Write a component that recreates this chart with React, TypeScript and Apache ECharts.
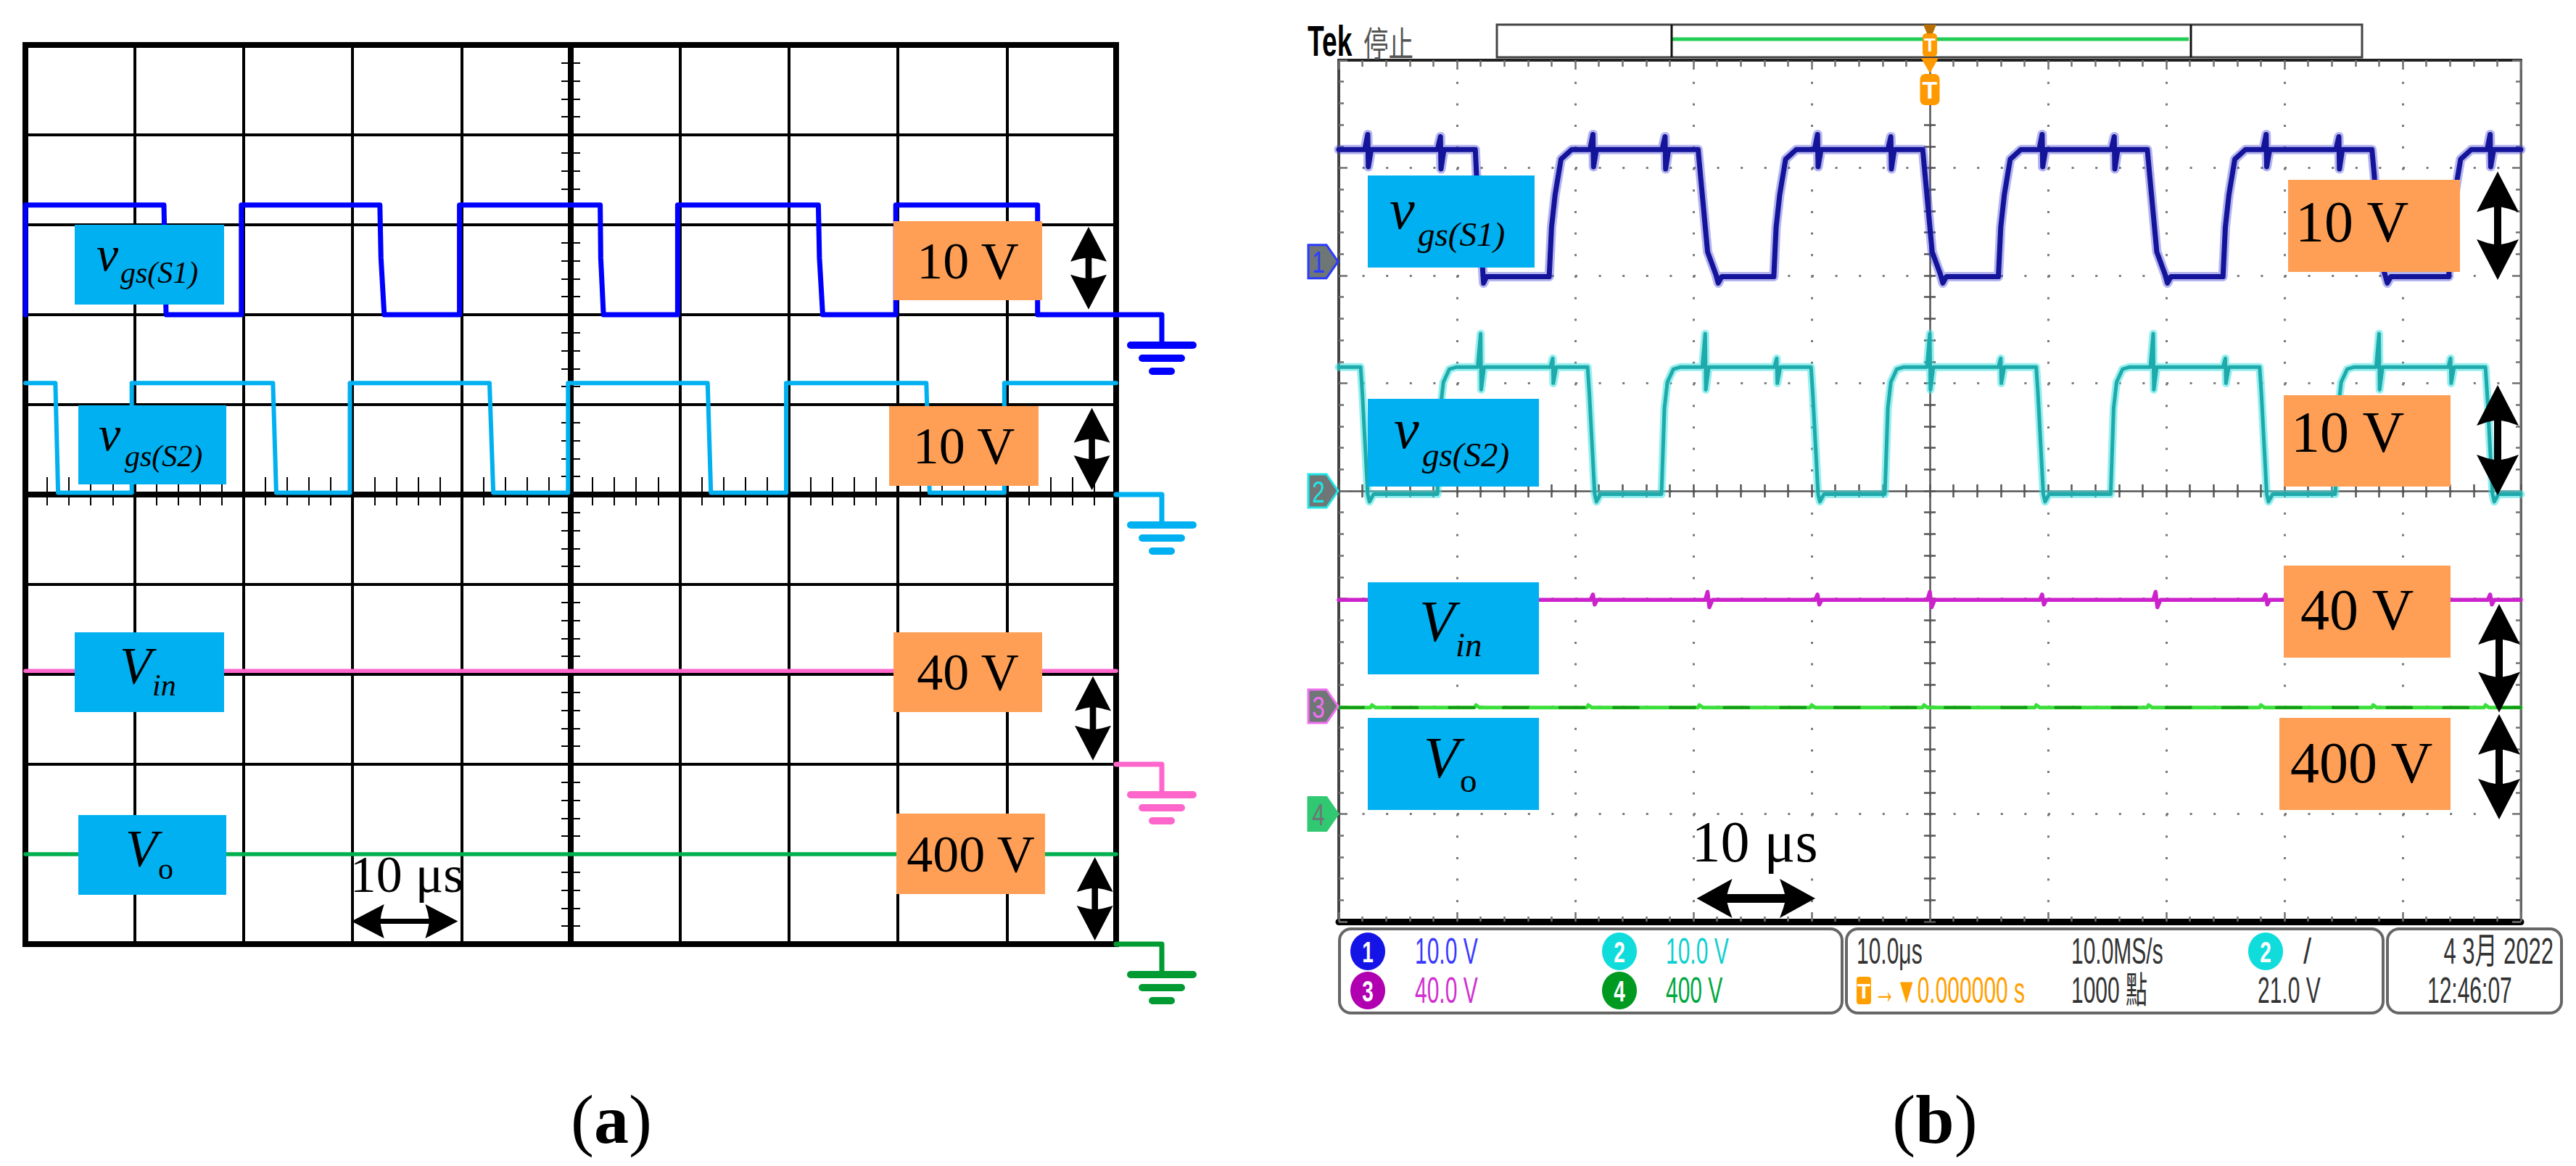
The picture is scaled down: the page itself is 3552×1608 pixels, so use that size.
import React, { useEffect, useRef } from "react";
import * as echarts from "echarts";

type Pt = [number, number];

// ================= DATA =================
// time in μs measured from the screen centre, voltage in V

// (a) simulated waveforms
const simVgsS1: Pt[] = [
  [-50, 0], [-50, 12.2], [-37.3, 12.2], [-37.1, 0],
  [-30.2, 0], [-30.2, 12.2], [-17.5, 12.2], [-17.4, 6.3], [-17.1, 0],
  [-10.2, 0], [-10.2, 12.2], [2.7, 12.2], [2.75, 6.3], [3.0, 0],
  [9.8, 0], [9.8, 12.2], [22.7, 12.2], [22.8, 6.3], [23.1, 0],
  [29.8, 0], [29.8, 12.2], [42.8, 12.2], [42.8, 0], [50, 0],
];
const simVgsS2: Pt[] = [
  [-50, 12.4], [-47.25, 12.4], [-47.0, 0.2], [-40.25, 0.2], [-40.25, 12.4],
  [-27.3, 12.4], [-27.0, 0.2], [-20.25, 0.2], [-20.25, 12.4],
  [-7.45, 12.4], [-7.1, 0.2], [-0.25, 0.2], [-0.25, 12.4],
  [12.55, 12.4], [12.85, 0.2], [19.75, 0.2], [19.75, 12.4],
  [32.6, 12.4], [32.9, 0.2], [39.75, 0.2], [39.75, 12.4], [50, 12.4],
];
const simVin: Pt[] = [[-50, 41.5], [50, 41.5]];
const simVo: Pt[] = [[-50, 400], [50, 400]];

// (b) measured waveforms
const scopeVgsS1: Pt[] = [
  [-50, 10.4],
  [-47.8, 10.4], [-47.55, 11.8], [-47.5, 8.8], [-47.25, 10.4],
  [-41.65, 10.4], [-41.4, 11.6], [-41.35, 8.6], [-41.1, 10.4],
  [-38.45, 10.4], [-38.3, 7.0], [-37.9, 0.5], [-37.75, -2.0], [-37.5, -1.4],
  [-32.2, -1.4], [-32.0, 3.2], [-31.7, 6.2], [-31.2, 9.5], [-30.3, 10.4],
  [-28.75, 10.4], [-28.5, 11.8], [-28.45, 8.8], [-28.2, 10.4],
  [-22.65, 10.4], [-22.4, 11.6], [-22.35, 8.6], [-22.1, 10.4],
  [-19.6, 10.4], [-19.4, 8.0], [-18.8, 0.9], [-18.1, -1.2], [-17.9, -2.0], [-17.6, -1.4],
  [-13.2, -1.4], [-13.0, 3.2], [-12.7, 6.2], [-12.2, 9.5], [-11.3, 10.4],
  [-9.75, 10.4], [-9.5, 11.8], [-9.45, 8.8], [-9.2, 10.4],
  [-3.55, 10.4], [-3.3, 11.6], [-3.25, 8.6], [-3.0, 10.4],
  [-0.6, 10.4], [-0.4, 8.0], [0.2, 0.9], [0.9, -1.2], [1.1, -2.0], [1.4, -1.4],
  [5.8, -1.4], [6.0, 3.2], [6.3, 6.2], [6.8, 9.5], [7.7, 10.4],
  [9.25, 10.4], [9.5, 11.8], [9.55, 8.8], [9.8, 10.4],
  [15.35, 10.4], [15.6, 11.6], [15.65, 8.6], [15.9, 10.4],
  [18.4, 10.4], [18.6, 8.0], [19.2, 0.9], [19.9, -1.2], [20.1, -2.0], [20.4, -1.4],
  [24.8, -1.4], [25.0, 3.2], [25.3, 6.2], [25.8, 9.5], [26.7, 10.4],
  [28.2, 10.4], [28.45, 11.8], [28.5, 8.8], [28.75, 10.4],
  [34.35, 10.4], [34.6, 11.6], [34.65, 8.6], [34.9, 10.4],
  [37.4, 10.4], [37.6, 8.0], [38.0, 0.9], [38.5, -1.2], [38.7, -2.0], [39.0, -1.4],
  [43.9, -1.4], [44.1, 3.2], [44.4, 6.2], [44.9, 9.5], [45.8, 10.4],
  [47.15, 10.4], [47.4, 11.8], [47.45, 8.8], [47.7, 10.4],
  [50, 10.4],
];
const scopeVgsS2: Pt[] = [
  [-50, 11.5],
  [-48.15, 11.5], [-48.0, 9.0], [-47.55, -0.3], [-47.4, -1.0], [-47.05, -0.3],
  [-41.65, -0.3], [-41.4, 7.7], [-41.15, 10.1], [-40.65, 11.3], [-40.05, 11.5],
  [-38.25, 11.5], [-38.0, 14.6], [-37.95, 9.4], [-37.7, 11.5],
  [-32.1, 11.5], [-31.9, 12.3], [-31.85, 10.0], [-31.6, 11.5],
  [-28.95, 11.5], [-28.8, 9.0], [-28.35, -0.3], [-28.2, -1.0], [-27.85, -0.3],
  [-22.7, -0.3], [-22.45, 7.7], [-22.2, 10.1], [-21.7, 11.3], [-21.1, 11.5],
  [-19.25, 11.5], [-19.0, 14.6], [-18.95, 9.4], [-18.7, 11.5],
  [-13.15, 11.5], [-12.95, 12.3], [-12.9, 10.0], [-12.65, 11.5],
  [-10.05, 11.5], [-9.9, 9.0], [-9.45, -0.3], [-9.3, -1.0], [-8.95, -0.3],
  [-3.8, -0.3], [-3.55, 7.7], [-3.3, 10.1], [-2.8, 11.3], [-2.2, 11.5],
  [-0.25, 11.5], [0, 14.6], [0.05, 9.4], [0.3, 11.5],
  [5.8, 11.5], [6.0, 12.3], [6.05, 10.0], [6.3, 11.5],
  [9.0, 11.5], [9.15, 9.0], [9.6, -0.3], [9.75, -1.0], [10.1, -0.3],
  [15.3, -0.3], [15.55, 7.7], [15.8, 10.1], [16.3, 11.3], [16.9, 11.5],
  [18.65, 11.5], [18.9, 14.6], [18.95, 9.4], [19.2, 11.5],
  [24.8, 11.5], [25.0, 12.3], [25.05, 10.0], [25.3, 11.5],
  [27.9, 11.5], [28.05, 9.0], [28.5, -0.3], [28.65, -1.0], [29.0, -0.3],
  [34.3, -0.3], [34.55, 7.7], [34.8, 10.1], [35.3, 11.3], [35.9, 11.5],
  [37.75, 11.5], [38.0, 14.6], [38.05, 9.4], [38.3, 11.5],
  [43.85, 11.5], [44.05, 12.3], [44.1, 10.0], [44.35, 11.5],
  [47.0, 11.5], [47.15, 9.0], [47.6, -0.3], [47.75, -1.0], [48.1, -0.3],
  [50, -0.3],
];
const scopeVin: Pt[] = [
  [-50, 39.5],
  [-28.7, 39.5], [-28.5, 41.5], [-28.35, 37.8], [-28.15, 39.5],
  [-19.0, 39.5], [-18.8, 42.5], [-18.65, 36.8], [-18.4, 39.5],
  [-9.7, 39.5], [-9.5, 41.5], [-9.35, 37.8], [-9.15, 39.5],
  [-0.2, 39.5], [0, 42.5], [0.15, 36.8], [0.4, 39.5],
  [9.3, 39.5], [9.5, 41.5], [9.65, 37.8], [9.85, 39.5],
  [18.9, 39.5], [19.1, 42.5], [19.25, 36.8], [19.5, 39.5],
  [28.2, 39.5], [28.4, 41.5], [28.55, 37.8], [28.75, 39.5],
  [47.2, 39.5], [47.4, 41.5], [47.55, 37.8], [47.75, 39.5],
  [50, 39.5],
];
const scopeVo: Pt[] = [
  [-50, 395], [-47.3, 395], [-47.2, 405], [-46.9, 395],
  [-38.5, 395], [-38.4, 405], [-38.1, 395], [-29.0, 395], [-28.9, 405], [-28.6, 395],
  [-19.6, 395], [-19.5, 405], [-19.2, 395], [-10.1, 395], [-10.0, 405], [-9.7, 395],
  [-0.6, 395], [-0.5, 405], [-0.2, 395], [8.9, 395], [9.0, 405], [9.3, 395],
  [18.4, 395], [18.5, 405], [18.8, 395], [27.9, 395], [28.0, 405], [28.3, 395],
  [37.4, 395], [37.5, 405], [37.8, 395], [46.9, 395], [47.0, 405], [47.3, 395],
  [50, 395],
];

// vertical scale (V/div) and ground level (div from centre) of every channel
const simVoltsPerDiv = [10, 10, 40, 400];
const simGroundDiv = [2, 0, -3, -5];
const scopeVoltsPerDiv = [10, 10, 40, 400];
const scopeGroundDiv = [2.13, 0, -2, -3];

// time axis (μs)
const timeMin = -50;
const timeMax = 50;
const timePerDiv = 10;

// texts
const channelSymbols: [string, string][] = [["v", "gs(S1)"], ["v", "gs(S2)"], ["V", "in"], ["V", "o"]];
const scaleLabels = ["10 V", "10 V", "40 V", "400 V"];
const timeLabel = "10 μs";
const captions = ["a", "b"];
const scopeMarkerNumbers = ["1", "2", "3", "4"];
const statusChannelTexts = ["10.0 V", "10.0 V", "40.0 V", "400 V"];
const statusTimebase = ["10.0μs", "10.0MS/s", "→▼0.000000 s", "1000 點", "21.0 V"];
const statusDate = ["4 3月 2022", "12:46:07"];
const headerTexts = ["Tek", "停止"];

// ================= LAYOUT / STYLE =================
const GA = { left: 35, top: 62, width: 1504, height: 1240 };
const GB = { left: 1846, top: 83, width: 1630, height: 1188 };

const SERIF = '"Liberation Serif", "Times New Roman", serif';
const SANS = '"Liberation Sans", Arial, "Noto Sans CJK TC", sans-serif';
const CJK = '"Noto Sans CJK TC", "Noto Sans CJK SC", sans-serif';

const BLUE_BOX = "#00B0F0";
const ORANGE_BOX = "#FF9F55";

const simColors = ["#0000FF", "#00B0F0", "#FF66CC", "#00B050"];
const simGroundColors = ["#0000FF", "#00B0F0", "#FF66CC", "#009A33"];

function font(size: number, family: string, italic = false, bold = false) {
  return `${italic ? "italic" : "normal"} ${bold ? "bold" : "normal"} ${size}px ${family}`;
}
function T(x: number, y: number, text: string, size: number, o: any = {}) {
  const align = o.align ?? "left";
  return {
    type: "text",
    x,
    y,
    z: o.z ?? 120,
    scaleX: o.sx ?? 1,
    silent: true,
    style: {
      text,
      font: font(size, o.family ?? SERIF, !!o.italic, !!o.bold),
      fill: o.color ?? "#000",
      align,
      verticalAlign: "middle",
      textAlign: align,
      textVerticalAlign: "middle",
    },
  };
}
const mid = (baseline: number, size: number) => baseline - 0.3375 * size;

function rect(x: number, y: number, w: number, h: number, fill: string, z = 110, extra: any = {}) {
  return { type: "rect", z, silent: true, shape: { x, y, width: w, height: h, r: extra.r ?? 0 }, style: { fill, stroke: extra.stroke ?? null, lineWidth: extra.lw ?? 0 } };
}
function line(x1: number, y1: number, x2: number, y2: number, color: string, lw: number, z = 60, cap = "round") {
  return { type: "line", z, silent: true, shape: { x1, y1, x2, y2 }, style: { stroke: color, lineWidth: lw, lineCap: cap } };
}

function vArrow(cx: number, y1: number, y2: number, w: number, l: number, s: number, d: number) {
  const pts = [
    [cx, y1], [cx + w, y1 + l], [cx + w * 0.5, y1 + l - d * 0.7], [cx + s, y1 + l - d],
    [cx + s, y2 - l + d], [cx + w * 0.5, y2 - l + d * 0.7], [cx + w, y2 - l],
    [cx, y2], [cx - w, y2 - l], [cx - w * 0.5, y2 - l + d * 0.7], [cx - s, y2 - l + d],
    [cx - s, y1 + l - d], [cx - w * 0.5, y1 + l - d * 0.7], [cx - w, y1 + l],
  ];
  return { type: "polygon", z: 115, silent: true, shape: { points: pts }, style: { fill: "#000" } };
}
function hArrow(cy: number, x1: number, x2: number, w: number, l: number, s: number, d: number) {
  const pts = [
    [x1, cy], [x1 + l, cy - w], [x1 + l - d * 0.7, cy - w * 0.5], [x1 + l - d, cy - s],
    [x2 - l + d, cy - s], [x2 - l + d * 0.7, cy - w * 0.5], [x2 - l, cy - w],
    [x2, cy], [x2 - l, cy + w], [x2 - l + d * 0.7, cy + w * 0.5], [x2 - l + d, cy + s],
    [x1 + l - d, cy + s], [x1 + l - d * 0.7, cy + w * 0.5], [x1 + l, cy + w],
  ];
  return { type: "polygon", z: 115, silent: true, shape: { points: pts }, style: { fill: "#000" } };
}

const toDiv = (data: Pt[], vpd: number, gnd: number) => data.map(([t, v]) => [t, gnd + v / vpd]);
const groundYA = (g: number) => GA.top + ((5 - g) / 10) * GA.height;
const groundYB = (g: number) => GB.top + ((4 - g) / 8) * GB.height;

const hiddenAxis = {
  axisLabel: { show: false },
  axisTick: { show: false },
  axisLine: { show: false, onZero: false },
  splitLine: { show: false },
  minorTick: { show: false },
  minorSplitLine: { show: false },
};
function vAxis(gridIndex: number, min: number, max: number, interval: number, extra: any) {
  return { type: "value", gridIndex, min, max, interval, ...hiddenAxis, ...extra };
}

function buildOption() {
  const blackTick = (len: number) => ({ show: true, splitNumber: 5, length: len, lineStyle: { color: "#000", width: 2 } });
  const grayTick = (len: number, c = "#707070") => ({ show: true, length: len, lineStyle: { color: c, width: 2.5 } });
  const grayMinor = (len: number, c = "#707070") => ({ show: true, splitNumber: 5, length: len, lineStyle: { color: c, width: 2.5 } });
  const yMinA = -5, yMaxA = 5, yMinB = -4, yMaxB = 4;

  const xAxis = [
    // (a)
    vAxis(0, timeMin, timeMax, timePerDiv, { splitLine: { show: true, lineStyle: { color: "#000", width: 4 } } }),
    vAxis(0, timeMin, timeMax, timePerDiv, { position: "bottom", axisLine: { show: true, onZero: true, lineStyle: { color: "#000", width: 8 } }, minorTick: blackTick(15) }),
    vAxis(0, timeMin, timeMax, timePerDiv, { position: "top", axisLine: { show: false, onZero: true }, minorTick: blackTick(24) }),
    // (b)
    vAxis(1, timeMin, timeMax, timePerDiv, {
      position: "bottom",
      axisLine: { show: true, onZero: false, lineStyle: { color: "#000", width: 9 } },
      axisTick: { ...grayTick(13), inside: true },
      minorTick: grayMinor(7),
      splitLine: { show: true, lineStyle: { color: "#7a7a7a", width: 3, type: [3, 26.7] } },
    }),
    vAxis(1, timeMin, timeMax, timePerDiv, {
      position: "top",
      axisLine: { show: true, onZero: false, lineStyle: { color: "#222", width: 4 } },
      axisTick: { ...grayTick(13), inside: true },
      minorTick: grayMinor(9),
    }),
    vAxis(1, timeMin, timeMax, timePerDiv, {
      position: "bottom",
      axisLine: { show: true, onZero: true, lineStyle: { color: "#555", width: 2.5 } },
      axisTick: grayTick(9, "#555"),
      minorTick: grayMinor(9, "#555"),
    }),
    vAxis(1, timeMin, timeMax, timePerDiv, {
      position: "top",
      axisLine: { show: false, onZero: true },
      axisTick: grayTick(9, "#555"),
      minorTick: grayMinor(9, "#555"),
    }),
  ];
  const yAxis = [
    vAxis(0, yMinA, yMaxA, 1, { splitLine: { show: true, lineStyle: { color: "#000", width: 4 } } }),
    vAxis(0, yMinA, yMaxA, 1, { position: "left", axisLine: { show: true, onZero: true, lineStyle: { color: "#000", width: 8 } }, minorTick: blackTick(13) }),
    vAxis(0, yMinA, yMaxA, 1, { position: "right", axisLine: { show: false, onZero: true }, minorTick: blackTick(13) }),
    vAxis(1, yMinB, yMaxB, 1, {
      position: "left",
      axisLine: { show: true, onZero: false, lineStyle: { color: "#444", width: 4 } },
      axisTick: { ...grayTick(12), inside: true },
      minorTick: grayMinor(7),
      splitLine: { show: true, lineStyle: { color: "#7a7a7a", width: 3, type: [3, 29.6] } },
    }),
    vAxis(1, yMinB, yMaxB, 1, {
      position: "right",
      axisLine: { show: true, onZero: false, lineStyle: { color: "#666", width: 3 } },
      axisTick: { ...grayTick(12), inside: true },
      minorTick: grayMinor(7),
    }),
    vAxis(1, yMinB, yMaxB, 1, {
      position: "left",
      axisLine: { show: true, onZero: true, lineStyle: { color: "#555", width: 2.5 } },
      axisTick: grayTick(8, "#555"),
      minorTick: grayMinor(8, "#555"),
    }),
    vAxis(1, yMinB, yMaxB, 1, {
      position: "right",
      axisLine: { show: false, onZero: true },
      axisTick: grayTick(8, "#555"),
      minorTick: grayMinor(8, "#555"),
    }),
  ];

  const lineSeries = (name: string, grid: number, data: any[], color: string, width: number, extra: any = {}) => ({
    type: "line",
    name,
    xAxisIndex: grid === 0 ? 0 : 3,
    yAxisIndex: grid === 0 ? 0 : 3,
    data,
    symbol: "none",
    showSymbol: false,
    silent: true,
    z: extra.z ?? 5,
    lineStyle: { color, width, cap: "round", join: "round", type: extra.type ?? "solid" },
  });

  const simData = [simVgsS1, simVgsS2, simVin, simVo];
  const scopeData = [scopeVgsS1, scopeVgsS2, scopeVin, scopeVo];
  const simWidths = [7, 6, 5.5, 5.5];
  const series: any[] = [];
  [3, 2, 1, 0].forEach((i) => {
    series.push(lineSeries(channelSymbols[i].join(""), 0, toDiv(simData[i], simVoltsPerDiv[i], simGroundDiv[i]), simColors[i], simWidths[i]));
  });
  const sd = scopeData.map((d, i) => toDiv(d, scopeVoltsPerDiv[i], scopeGroundDiv[i]));
  series.push(lineSeries("Vo", 1, sd[3], "#3ADF3A", 5, { z: 4 }));
  series.push(lineSeries("Vo-dark", 1, sd[3], "#139A13", 4, { z: 5, type: [34, 44] }));
  series.push(lineSeries("Vin", 1, sd[2], "#CC22CC", 5.5, { z: 5 }));
  series.push(lineSeries("S2-halo", 1, sd[1], "rgba(70,225,225,0.55)", 11, { z: 4 }));
  series.push(lineSeries("S2", 1, sd[1], "#1EAAAA", 5, { z: 5 }));
  series.push(lineSeries("S1-halo", 1, sd[0], "rgba(70,70,215,0.4)", 13, { z: 4 }));
  series.push(lineSeries("S1", 1, sd[0], "#14149A", 7, { z: 6 }));

  // ---------- graphics ----------
  const g: any[] = [];

  // (a) ground symbols
  const gxA = 1602;
  simGroundDiv.forEach((gd, i) => {
    const y = groundYA(gd);
    const c = simGroundColors[i];
    g.push({ type: "polyline", z: 60, silent: true, shape: { points: [[GA.left + GA.width, y], [gxA, y], [gxA, y + 42]] }, style: { stroke: c, lineWidth: 7, fill: null, lineCap: "round", lineJoin: "round" } });
    g.push(line(gxA - 43, y + 42, gxA + 43, y + 42, c, 10));
    g.push(line(gxA - 27, y + 60, gxA + 27, y + 60, c, 10));
    g.push(line(gxA - 13, y + 78, gxA + 13, y + 78, c, 10));
  });

  // label boxes (a)
  const simNameBoxes = [[103, 310, 206, 110], [108, 559, 204, 109], [103, 872, 206, 110], [108, 1124, 204, 110]];
  const simScaleBoxes = [[1232, 305, 205, 109], [1226, 560, 206, 110], [1232, 872, 205, 110], [1236, 1122, 205, 111]];
  const simGlyphs = [
    { mx: 133, mb: 372.8, ms: 68, sx: 166, sb: 390.6, ss: 42 },
    { mx: 136, mb: 620.5, ms: 68, sx: 172, sb: 643, ss: 42 },
    { mx: 165, mb: 942.4, ms: 72, sx: 210, sb: 959, ss: 42 },
    { mx: 173, mb: 1193.8, ms: 72, sx: 218, sb: 1212.5, ss: 42 },
  ];
  simNameBoxes.forEach(([x, y, w, h], i) => {
    g.push(rect(x, y, w, h, BLUE_BOX));
    const gl = simGlyphs[i];
    g.push(T(gl.mx, mid(gl.mb, gl.ms), channelSymbols[i][0], gl.ms, { italic: true }));
    g.push(T(gl.sx, mid(gl.sb, gl.ss), channelSymbols[i][1], gl.ss, { italic: i !== 3 }));
  });
  simScaleBoxes.forEach(([x, y, w, h], i) => {
    g.push(rect(x, y, w, h, ORANGE_BOX));
    g.push(T(x + w / 2, y + h / 2, scaleLabels[i], 72, { align: "center" }));
  });
  [[1501, 312.7, 426.7], [1505.6, 562.5, 676], [1507, 932.6, 1048.7], [1509.7, 1182, 1297]].forEach(([cx, a, b]) =>
    g.push(vArrow(cx, a, b, 25, 48, 4.3, 5))
  );
  g.push(hArrow(1270.5, 484.7, 631.4, 23.5, 45, 3.4, 5));
  g.push(T(561, mid(1230, 72), timeLabel, 72, { align: "center" }));

  // (b) label boxes
  const scopeNameBoxes = [[1886, 242, 230, 127], [1886, 550, 236, 121], [1886, 803, 236, 127], [1886, 990, 236, 127]];
  const scopeScaleBoxes = [[3155, 248, 237, 127], [3149, 545, 230, 126], [3149, 780, 230, 127], [3143, 990, 236, 127]];
  const scopeGlyphs = [
    { mx: 1916, mb: 314.7, ms: 78, sx: 1955, sb: 339, ss: 47 },
    { mx: 1922, mb: 618, ms: 78, sx: 1961, sb: 643, ss: 47 },
    { mx: 1957, mb: 884.4, ms: 80, sx: 2007, sb: 904.5, ss: 47 },
    { mx: 1963, mb: 1071.9, ms: 80, sx: 2013, sb: 1092, ss: 47 },
  ];
  const scopeScaleText = [[3165, 306], [3159, 596], [3172, 841], [3158, 1052]];
  scopeNameBoxes.forEach(([x, y, w, h], i) => {
    g.push(rect(x, y, w, h, BLUE_BOX));
    const gl = scopeGlyphs[i];
    g.push(T(gl.mx, mid(gl.mb, gl.ms), channelSymbols[i][0], gl.ms, { italic: true }));
    g.push(T(gl.sx, mid(gl.sb, gl.ss), channelSymbols[i][1], gl.ss, { italic: i !== 3 }));
  });
  scopeScaleBoxes.forEach(([x, y, w, h], i) => {
    g.push(rect(x, y, w, h, ORANGE_BOX));
    g.push(T(scopeScaleText[i][0], scopeScaleText[i][1], scaleLabels[i], 80));
  });
  [[3444, 236.6, 386], [3444, 531, 683], [3446, 833, 982.6], [3446, 984.8, 1130]].forEach(([cx, a, b]) =>
    g.push(vArrow(cx, a, b, 29, 56, 5, 7))
  );
  g.push(hArrow(1239, 2339.6, 2503, 27, 49, 6, 7));
  g.push(T(2419.5, mid(1188, 80), timeLabel, 80, { align: "center" }));

  // (b) channel ground markers at the left edge
  const mkFill = ["#6E7676", "#6E7676", "#6E7676", "#30C870"];
  const mkStroke = ["#2B3BFF", "#22E5E5", "#F070F0", "#30C870"];
  const mkText = ["#2B3BFF", "#22E5E5", "#F070F0", "#6E7676"];
  scopeGroundDiv.forEach((gd, i) => {
    const y = groundYB(gd);
    g.push({
      type: "polygon", z: 70, silent: true,
      shape: { points: [[1804, y - 23], [1829, y - 23], [1845, y], [1829, y + 23], [1804, y + 23]] },
      style: { fill: mkFill[i], stroke: mkStroke[i], lineWidth: 3 },
    });
    g.push(T(1818, y + 1, scopeMarkerNumbers[i], 42, { family: SANS, color: mkText[i], align: "center", sx: 0.75, z: 71 }));
  });

  // (b) header
  g.push(T(1803, 57, headerTexts[0], 60, { family: SANS, bold: true, sx: 0.62 }));
  g.push(T(1880, 57, headerTexts[1], 48, { family: CJK, color: "#555", sx: 0.72 }));
  g.push(rect(2064, 34, 1193, 45, "#fff", 60, { stroke: "#444", lw: 3 }));
  g.push(line(2305, 54, 3018, 54, "#22CC55", 5, 61, "butt"));
  g.push(line(2305, 34, 2305, 79, "#111", 3, 62, "butt"));
  g.push(line(3021, 34, 3021, 79, "#111", 3, 62, "butt"));
  const cxB = GB.left + GB.width / 2;
  const ORANGE = "#FF9900";
  g.push({ type: "polygon", z: 130, silent: true, shape: { points: [[cxB - 9, 34], [cxB + 9, 34], [cxB + 4, 46], [cxB - 4, 46]] }, style: { fill: "#B86E00" } });
  g.push(rect(cxB - 10, 46, 20, 32, ORANGE, 130, { r: 5 }));
  g.push(T(cxB, 62, "T", 26, { family: SANS, bold: true, color: "#fff", align: "center", z: 131 }));
  g.push({ type: "polygon", z: 130, silent: true, shape: { points: [[cxB - 12, 80], [cxB + 12, 80], [cxB, 101]] }, style: { fill: ORANGE } });
  g.push(rect(cxB - 13.5, 102, 27, 43, ORANGE, 130, { r: 7 }));
  g.push(T(cxB, 123.5, "T", 34, { family: SANS, bold: true, color: "#fff", align: "center", z: 131 }));

  // (b) status bar
  const r1 = 1312, r2 = 1366;
  g.push(rect(1847, 1281, 693, 116, "#fff", 60, { stroke: "#666", lw: 4, r: 16 }));
  g.push(rect(2546, 1281, 740, 116, "#fff", 60, { stroke: "#666", lw: 4, r: 16 }));
  g.push(rect(3292, 1281, 240, 116, "#fff", 60, { stroke: "#666", lw: 4, r: 16 }));
  const circ = (cx: number, cy: number, fill: string, num: string) => {
    g.push({ type: "ellipse", z: 70, silent: true, shape: { cx, cy, rx: 24, ry: 26 }, style: { fill } });
    g.push(T(cx, cy + 1, num, 40, { family: SANS, bold: true, color: "#fff", align: "center", sx: 0.7, z: 71 }));
  };
  circ(1886, r1, "#1414E6", "1");
  circ(2233, r1, "#10DCDC", "2");
  circ(1886, r2, "#B000B0", "3");
  circ(2233, r2, "#009A20", "4");
  circ(3124, r1, "#10DCDC", "2");
  const stColors = ["#3A3AFF", "#10D0D0", "#D030D0", "#00A840"];
  const stPos = [[1951, r1], [2297, r1], [1951, r2], [2297, r2]];
  statusChannelTexts.forEach((s, i) => g.push(T(stPos[i][0], stPos[i][1], s, 50, { family: SANS, color: stColors[i], sx: 0.6 })));
  g.push(T(2560, r1, statusTimebase[0], 50, { family: SANS, color: "#333", sx: 0.6 }));
  g.push(T(2856, r1, statusTimebase[1], 50, { family: SANS, color: "#333", sx: 0.6 }));
  g.push(T(3176, r1, "/", 50, { family: SANS, color: "#333", sx: 0.8 }));
  g.push(rect(2560, 1347, 20, 38, "#FFA000", 70, { r: 4 }));
  g.push(T(2570, r2, "T", 30, { family: SANS, bold: true, color: "#fff", align: "center", z: 71 }));
  g.push(T(2584, r2, statusTimebase[2], 50, { family: SANS, color: "#FFA000", sx: 0.6 }));
  g.push(T(2856, r2, statusTimebase[3], 50, { family: SANS, color: "#333", sx: 0.6 }));
  g.push(T(3113, r2, statusTimebase[4], 50, { family: SANS, color: "#333", sx: 0.6 }));
  g.push(T(3521, r1, statusDate[0], 50, { family: SANS, color: "#333", sx: 0.62, align: "right" }));
  g.push(T(3347, r2, statusDate[1], 50, { family: SANS, color: "#333", sx: 0.6 }));

  // captions
  [[843, 1543], [2668, 1543]].forEach(([x, y], i) => {
    g.push({
      type: "text", x, y, z: 120, silent: true,
      style: {
        text: `({b|${captions[i]}})`,
        font: font(96, SERIF),
        fill: "#000",
        align: "center", verticalAlign: "middle", textAlign: "center", textVerticalAlign: "middle",
        rich: { b: { font: font(96, SERIF, false, true), fill: "#000" } },
      },
    });
  });

  return {
    animation: false,
    backgroundColor: "#ffffff",
    grid: [
      { left: GA.left, top: GA.top, width: GA.width, height: GA.height, show: true, borderColor: "#000", borderWidth: 8, backgroundColor: "transparent", containLabel: false, outerBoundsMode: "none" },
      { left: GB.left, top: GB.top, width: GB.width, height: GB.height, show: true, borderColor: "#666", borderWidth: 3, backgroundColor: "#fff", containLabel: false, outerBoundsMode: "none" },
    ],
    xAxis,
    yAxis,
    series,
    graphic: { elements: g },
  };
}

export default function App() {
  const ref = useRef<HTMLDivElement>(null);
  useEffect(() => {
    if (!ref.current) return;
    const chart = echarts.init(ref.current, undefined, { renderer: "svg" });
    chart.setOption(buildOption() as any);
    return () => chart.dispose();
  }, []);
  return (
    <div
      ref={ref}
      style={{ position: "absolute", left: 0, top: 0, width: 3552, height: 1608, background: "#fff" }}
    />
  );
}
